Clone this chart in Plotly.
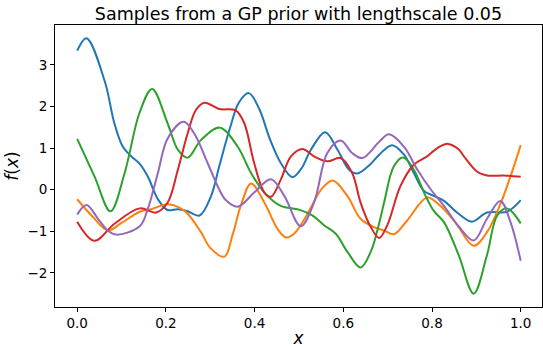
import plotly.graph_objects as go

# ---- data ----
blue_x = [0, 0.021, 0.062, 0.084, 0.103, 0.122, 0.141, 0.159, 0.182, 0.204, 0.227, 0.249, 0.276, 0.302, 0.32, 0.345, 0.365, 0.387, 0.41, 0.435, 0.459, 0.485, 0.505, 0.527, 0.559, 0.587, 0.613, 0.632, 0.66, 0.681, 0.71, 0.737, 0.759, 0.782, 0.804, 0.827, 0.86, 0.89, 0.924, 0.969, 1.0]
blue_y = [3.34, 3.64, 2.61, 1.59, 1.03, 0.80, 0.62, 0.32, -0.23, -0.49, -0.47, -0.52, -0.62, -0.15, 0.55, 1.5, 2.1, 2.32, 1.95, 1.2, 0.64, 0.30, 0.5, 0.96, 1.38, 0.96, 0.48, 0.39, 0.6, 0.84, 1.07, 0.84, 0.40, -0.03, -0.15, -0.27, -0.58, -0.77, -0.55, -0.53, -0.25]

orange_x = [0, 0.035, 0.069, 0.1, 0.141, 0.167, 0.204, 0.242, 0.279, 0.30, 0.332, 0.35, 0.37, 0.392, 0.422, 0.452, 0.471, 0.489, 0.51, 0.527, 0.55, 0.576, 0.609, 0.639, 0.669, 0.692, 0.714, 0.744, 0.789, 0.819, 0.849, 0.86, 0.894, 0.924, 0.954, 0.977, 1.0]
orange_y = [-0.23, -0.65, -0.98, -0.8, -0.53, -0.47, -0.35, -0.51, -1.02, -1.4, -1.61, -1.1, -0.35, 0.15, -0.31, -0.95, -1.15, -1.06, -0.75, -0.43, 0.0, 0.22, -0.15, -0.70, -0.90, -0.98, -1.07, -0.74, -0.19, -0.39, -0.74, -0.9, -1.35, -1.02, -0.35, 0.32, 1.07]

green_x = [0, 0.039, 0.075, 0.107, 0.141, 0.169, 0.204, 0.227, 0.249, 0.279, 0.322, 0.362, 0.392, 0.422, 0.459, 0.5, 0.53, 0.557, 0.583, 0.609, 0.639, 0.662, 0.681, 0.692, 0.714, 0.735, 0.759, 0.782, 0.804, 0.827, 0.86, 0.894, 0.924, 0.947, 0.969, 1.0]
green_y = [1.22, 0.32, -0.52, 0.40, 1.86, 2.42, 1.59, 0.96, 0.77, 1.19, 1.49, 1.03, 0.40, -0.07, -0.39, -0.48, -0.62, -0.86, -1.06, -1.49, -1.87, -1.49, -0.8, -0.31, 0.56, 0.77, 0.48, -0.07, -0.51, -0.78, -1.57, -2.50, -1.57, -0.62, -0.45, -0.81]

red_x = [0, 0.039, 0.084, 0.141, 0.178, 0.204, 0.227, 0.249, 0.268, 0.287, 0.32, 0.358, 0.377, 0.399, 0.422, 0.437, 0.459, 0.482, 0.508, 0.534, 0.564, 0.594, 0.62, 0.639, 0.662, 0.681, 0.699, 0.729, 0.759, 0.789, 0.812, 0.836, 0.86, 0.872, 0.902, 0.924, 0.962, 1.0]
red_y = [-0.77, -1.23, -0.82, -0.45, -0.55, -0.31, 0.48, 1.35, 1.92, 2.09, 1.94, 1.90, 1.59, 0.64, -0.07, -0.17, 0.24, 0.80, 0.98, 0.80, 0.68, 0.76, 0.40, -0.31, -0.90, -1.16, -0.86, 0.09, 0.60, 0.80, 1.0, 1.10, 0.97, 0.80, 0.43, 0.34, 0.34, 0.31]

purple_x = [0, 0.021, 0.047, 0.069, 0.088, 0.141, 0.159, 0.182, 0.204, 0.24, 0.264, 0.294, 0.32, 0.335, 0.362, 0.399, 0.437, 0.467, 0.504, 0.534, 0.564, 0.594, 0.62, 0.643, 0.681, 0.703, 0.737, 0.767, 0.797, 0.827, 0.86, 0.894, 0.924, 0.954, 0.977, 1.0]
purple_y = [-0.60, -0.37, -0.70, -0.98, -1.08, -0.88, -0.47, 0.40, 1.23, 1.63, 1.35, 0.64, 0.01, -0.25, -0.41, -0.07, 0.25, -0.15, -0.88, -0.31, 0.88, 1.18, 0.88, 0.76, 1.15, 1.33, 1.03, 0.48, 0.01, -0.39, -0.88, -1.22, -0.70, -0.27, -0.78, -1.71]

x_ticks = [0.0, 0.2, 0.4, 0.6, 0.8, 1.0]
x_tick_labels = ["0.0", "0.2", "0.4", "0.6", "0.8", "1.0"]
y_ticks = [-2, -1, 0, 1, 2, 3]
y_tick_labels = ["\u22122", "\u22121", "0", "1", "2", "3"]

title_text = "Samples from a GP prior with lengthscale 0.05"

series = [
    (blue_x, blue_y, "#1f77b4"),
    (orange_x, orange_y, "#ff7f0e"),
    (green_x, green_y, "#2ca02c"),
    (red_x, red_y, "#d62728"),
    (purple_x, purple_y, "#9467bd"),
]

fig = go.Figure()
for xs, ys, col in series:
    fig.add_trace(go.Scatter(x=xs, y=ys, mode="lines",
                             line=dict(color=col, width=2, shape="spline", smoothing=1.0),
                             showlegend=False, hoverinfo="skip"))

font_family = "DejaVu Sans"
fig.update_layout(
    width=543, height=348,
    margin=dict(l=55, r=0, t=25, b=37, pad=0),
    paper_bgcolor="white", plot_bgcolor="white",
    font=dict(family=font_family, color="black", size=13),
    title=dict(text=title_text, x=0.5, xanchor="center", xref="paper",
               y=1 - 14 / 348, yref="container", yanchor="middle",
               font=dict(size=17.5, family=font_family, color="black")),
    xaxis=dict(range=[-0.05, 1.048], tickvals=x_ticks, ticktext=x_tick_labels,
               ticks="outside", ticklen=4, tickwidth=1, tickcolor="black",
               showline=True, linecolor="black", linewidth=1, mirror=True,
               showgrid=False, zeroline=False,
               tickfont=dict(size=13.5),
               title=dict(text="<i>x</i>", font=dict(size=17, family=font_family), standoff=5)),
    yaxis=dict(range=[-2.82, 3.957], tickvals=y_ticks, ticktext=y_tick_labels,
               ticks="outside", ticklen=4, tickwidth=1, tickcolor="black",
               showline=True, linecolor="black", linewidth=1, mirror=True,
               showgrid=False, zeroline=False,
               tickfont=dict(size=13.5),
               title=dict(text="<i>f</i>(<i>x</i>)", font=dict(size=17, family=font_family), standoff=4)),
)

fig.write_html("out.html")
